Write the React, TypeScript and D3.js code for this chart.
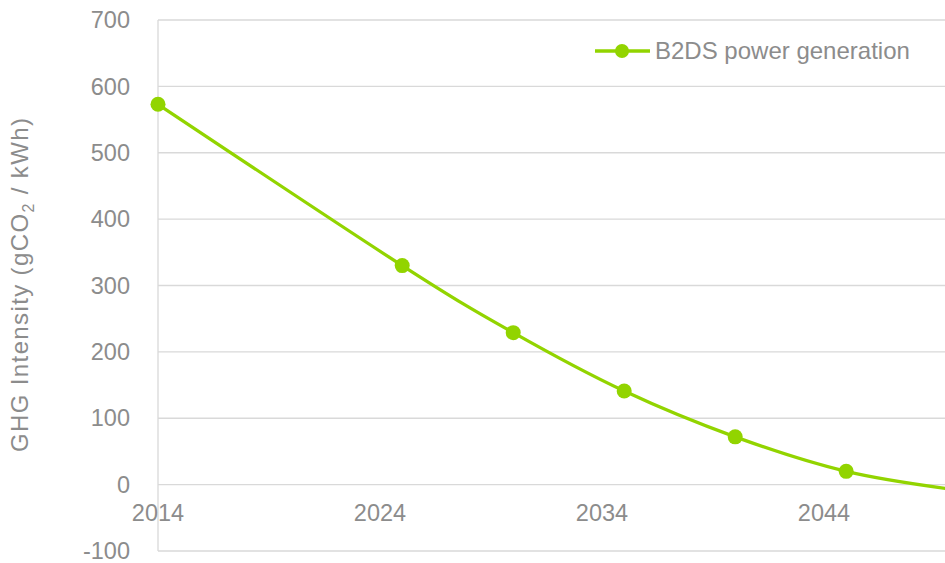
import React from "react";
import * as d3 from "d3";

const years = [2014, 2025, 2030, 2035, 2040, 2045, 2050];
const intensity = [573, 330, 229, 141, 72, 20, -8];
const yTicks = [-100, 0, 100, 200, 300, 400, 500, 600, 700];
const xTicks = [2014, 2024, 2034, 2044];
const seriesName = "B2DS power generation";

const W = 945;
const H = 563;
const GREEN = "#92d400";
const GRID = "#d9d9d9";
const TEXT = "#8c8c8c";
const FONT = "'Liberation Sans', Arial, sans-serif";

export default function App() {
  const x = d3.scaleLinear().domain([2014, 2050]).range([158, 158 + 36 * 22.2]);
  const y = d3.scaleLinear().domain([-100, 700]).range([551, 20]);
  const data = years.map((yr, i) => ({ yr, v: intensity[i] }));
  const line = d3
    .line<{ yr: number; v: number }>()
    .x((d) => x(d.yr))
    .y((d) => y(d.v))
    .curve(d3.curveCardinal.tension(0));
  const right = x(2050);

  return (
    <svg
      width={W}
      height={H}
      style={{ position: "fixed", left: 0, top: 0, background: "#fff" }}
      fontFamily={FONT}
    >
      {yTicks.map((t) => (
        <line key={t} x1={x(2014)} x2={right} y1={y(t)} y2={y(t)} stroke={GRID} strokeWidth={1.3} />
      ))}
      <line x1={x(2014)} x2={x(2014)} y1={y(700)} y2={y(-100)} stroke={GRID} strokeWidth={1.3} />
      {yTicks.map((t) => (
        <text key={t} x={130} y={y(t)} dy="0.35em" textAnchor="end" fontSize={23.5} fill={TEXT}>
          {t}
        </text>
      ))}
      {xTicks.map((t) => (
        <text key={t} x={x(t)} y={513} dy="0.35em" textAnchor="middle" fontSize={23.5} fill={TEXT}>
          {t}
        </text>
      ))}
      <text
        transform={`translate(28,285) rotate(-90)`}
        textAnchor="middle"
        fontSize={24}
        fill={TEXT}
        textLength={334}
        lengthAdjust="spacing"
      >
        GHG Intensity (gCO<tspan fontSize={16} dy={6}>2</tspan>
        <tspan dy={-6}> / kWh)</tspan>
      </text>
      <path d={line(data) || ""} fill="none" stroke={GREEN} strokeWidth={3.3} />
      {data.map((d) => (
        <circle key={d.yr} cx={x(d.yr)} cy={y(d.v)} r={7.5} fill={GREEN} />
      ))}
      <line x1={595} x2={650} y1={51} y2={51} stroke={GREEN} strokeWidth={3.3} />
      <circle cx={622} cy={51} r={7} fill={GREEN} />
      <text x={655} y={51} dy="0.35em" fontSize={24} fill={TEXT}>
        {seriesName}
      </text>
    </svg>
  );
}
